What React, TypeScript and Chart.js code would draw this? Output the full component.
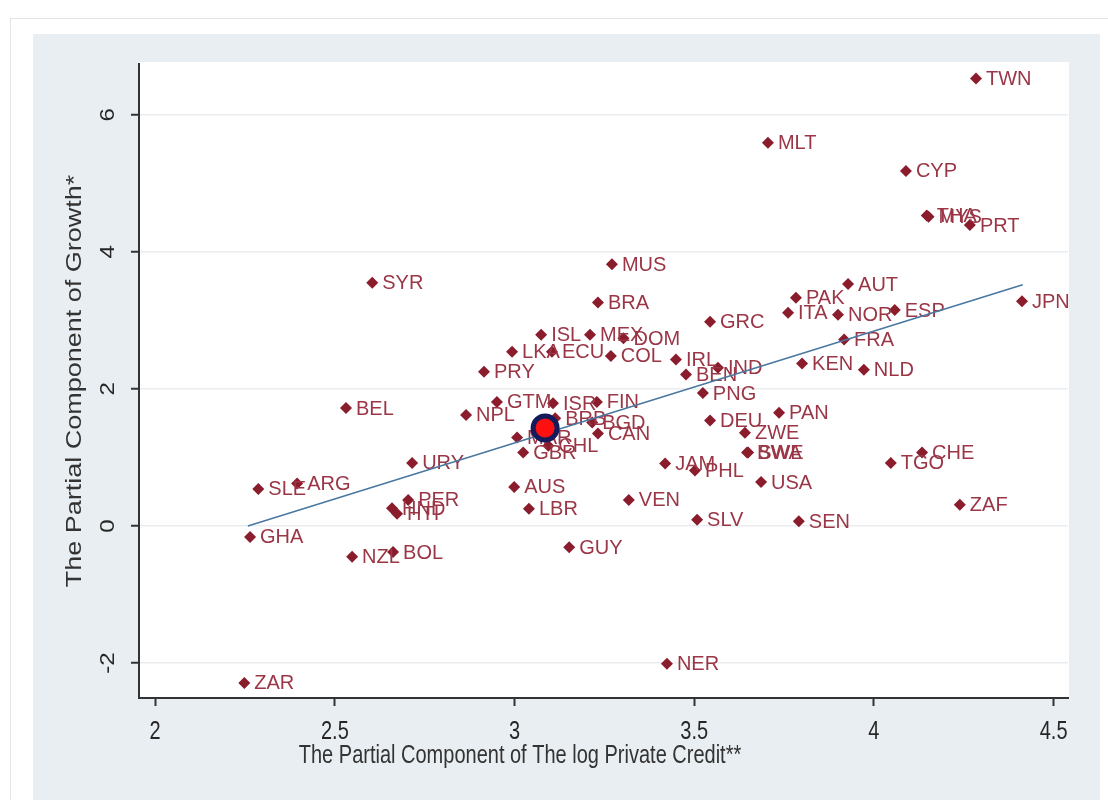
import React, { useEffect, useRef } from "react";
import { Chart, registerables } from "chart.js";

Chart.register(...registerables);

const countries = [
  "TWN", "MLT", "CYP", "THA", "MYS", "PRT", "MUS", "SYR", "AUT", "BRA",
  "PAK", "ITA", "NOR", "ESP", "JPN", "GRC", "ISL", "MEX", "DOM", "LKA",
  "ECU", "COL", "IRL", "PRY", "BEN", "IND", "KEN", "FRA", "NLD", "PNG",
  "GTM", "ISR", "FIN", "BRB", "BGD", "CAN", "NPL", "BEL", "MAR", "GBR",
  "CHL", "URY", "SLE", "ARG", "PER", "HND", "HTI", "GHA", "NZL", "BOL",
  "AUS", "LBR", "GUY", "VEN", "JAM", "PHL", "SLV", "DEU", "PAN", "ZWE",
  "BWA", "SWE", "USA", "SEN", "TGO", "CHE", "ZAF", "NER", "ZAR",
];
const creditValues = [
  4.284, 3.705, 4.089, 4.147, 4.152, 4.267, 3.271, 2.604, 3.928, 3.232,
  3.783, 3.761, 3.900, 4.058, 4.412, 3.544, 3.074, 3.210, 3.303, 2.993,
  3.104, 3.268, 3.449, 2.915, 3.477, 3.566, 3.800, 3.917, 3.972, 3.524,
  2.951, 3.107, 3.229, 3.113, 3.216, 3.232, 2.865, 2.531, 3.007, 3.024,
  3.094, 2.715, 2.287, 2.395, 2.704, 2.659, 2.673, 2.264, 2.548, 2.662,
  2.999, 3.040, 3.152, 3.318, 3.419, 3.502, 3.508, 3.544, 3.736, 3.641,
  3.647, 3.650, 3.686, 3.791, 4.047, 4.134, 4.239, 3.424, 2.248,
];
const growthValues = [
  6.53, 5.59, 5.18, 4.53, 4.51, 4.39, 3.82, 3.55, 3.53, 3.26,
  3.33, 3.11, 3.08, 3.15, 3.28, 2.98, 2.79, 2.79, 2.74, 2.54,
  2.54, 2.48, 2.43, 2.25, 2.21, 2.31, 2.37, 2.72, 2.28, 1.94,
  1.81, 1.79, 1.81, 1.57, 1.51, 1.35, 1.62, 1.72, 1.29, 1.07,
  1.17, 0.92, 0.54, 0.62, 0.38, 0.26, 0.18, -0.16, -0.45, -0.38,
  0.57, 0.25, -0.31, 0.38, 0.91, 0.81, 0.09, 1.54, 1.65, 1.36,
  1.07, 1.07, 0.64, 0.07, 0.92, 1.07, 0.31, -2.01, -2.29,
];
const highlightX = [3.085];
const highlightY = [1.43];
const fitX = [2.258, 4.414];
const fitY = [0.0, 3.52];
const xTicks = [2, 2.5, 3, 3.5, 4, 4.5];
const xTickLabels = ["2", "2.5", "3", "3.5", "4", "4.5"];
const yTicks = [-2, 0, 2, 4, 6];
const yTickLabels = ["-2", "0", "2", "4", "6"];
const xTitle = "The Partial Component of The log Private Credit**";
const yTitle = "The Partial Component of Growth*";

const SANS = "'Liberation Sans', Arial, sans-serif";

export default function App() {
  const ref = useRef<HTMLCanvasElement | null>(null);

  useEffect(() => {
    const canvas = ref.current;
    if (!canvas) return;

    const areaBg = {
      id: "areaBg",
      beforeDraw(chart: any) {
        const { ctx, chartArea } = chart;
        ctx.save();
        ctx.fillStyle = "#ffffff";
        ctx.fillRect(chartArea.left, chartArea.top - 2, chartArea.right - chartArea.left + 1, chartArea.bottom - chartArea.top + 2);
        ctx.restore();
      },
    };

    const pointLabels = {
      id: "pointLabels",
      afterDatasetDraw(chart: any, args: any) {
        if (args.index !== 0) return;
        const { ctx } = chart;
        const meta = chart.getDatasetMeta(0);
        ctx.save();
        ctx.font = `20px ${SANS}`;
        ctx.fillStyle = "#9a3646";
        ctx.textAlign = "left";
        ctx.textBaseline = "middle";
        meta.data.forEach((el: any, i: number) => {
          ctx.fillText(countries[i], el.x + 10, el.y + 1);
        });
        ctx.restore();
      },
    };

    const axisText = {
      id: "axisText",
      afterDraw(chart: any) {
        const { ctx, chartArea } = chart;
        const ys = chart.scales.y;
        const xs = chart.scales.x;
        ctx.save();
        ctx.fillStyle = "#262626";
        ctx.textAlign = "center";
        ctx.textBaseline = "middle";
        // y tick labels (rotated)
        ctx.font = `24px ${SANS}`;
        yTicks.forEach((v, i) => {
          const py = ys.getPixelForValue(v);
          ctx.save();
          ctx.translate(chartArea.left - 31, py);
          ctx.rotate(-Math.PI / 2);
          ctx.scale(1, 0.85);
          ctx.fillText(yTickLabels[i], 0, 0);
          ctx.restore();
        });
        // x tick labels (condensed)
        ctx.font = `25px ${SANS}`;
        xTicks.forEach((v, i) => {
          const px = xs.getPixelForValue(v);
          ctx.save();
          ctx.translate(px, chartArea.bottom + 34);
          ctx.scale(0.8, 1);
          ctx.fillText(xTickLabels[i], 0, 0);
          ctx.restore();
        });
        // y title
        ctx.fillStyle = "#333333";
        ctx.font = `27px ${SANS}`;
        ctx.save();
        ctx.translate(chartArea.left - 64, (chartArea.top + chartArea.bottom) / 2);
        ctx.rotate(-Math.PI / 2);
        ctx.scale(1, 0.85);
        ctx.fillText(yTitle, 0, 0);
        ctx.restore();
        // x title
        ctx.font = `25px ${SANS}`;
        ctx.save();
        ctx.translate(chartArea.left + 381, chartArea.bottom + 58);
        ctx.scale(0.8, 1);
        ctx.fillText(xTitle, 0, 0);
        ctx.restore();
        ctx.restore();
      },
    };

    const chart = new Chart(canvas, {
      type: "scatter",
      data: {
        datasets: [
          {
            label: "countries",
            data: countries.map((_, i) => ({ x: creditValues[i], y: growthValues[i] })),
            pointStyle: "rectRot",
            pointRadius: 6,
            backgroundColor: "#8a1c2c",
            borderColor: "#8a1c2c",
            borderWidth: 0,
            order: 2,
          },
          {
            type: "line",
            label: "fit",
            data: fitX.map((x, i) => ({ x, y: fitY[i] })),
            borderColor: "#4a78a0",
            borderWidth: 1.6,
            pointRadius: 0,
            fill: false,
            order: 1,
          },
          {
            label: "highlight",
            data: highlightX.map((x, i) => ({ x, y: highlightY[i] })),
            pointStyle: "circle",
            pointRadius: 12,
            backgroundColor: "#ff1010",
            borderColor: "#141a5a",
            borderWidth: 5,
            order: 0,
          },
        ],
      } as any,
      options: {
        animation: false,
        responsive: false,
        layout: { padding: { left: 0, top: 30, right: 32, bottom: 0 } },
        plugins: { legend: { display: false }, tooltip: { enabled: false } },
        scales: {
          x: {
            type: "linear",
            min: 1.955,
            max: 4.54,
            afterBuildTicks(scale: any) {
              scale.ticks = xTicks.map((v) => ({ value: v }));
            },
            afterFit(scale: any) {
              scale.height = 102;
            },
            ticks: { display: false },
            grid: {
              drawOnChartArea: false,
              drawTicks: true,
              tickLength: 8,
              tickColor: "#333333",
              tickWidth: 2,
            },
            border: { display: true, color: "#333333", width: 2 },
          },
          y: {
            type: "linear",
            min: -2.51,
            max: 6.74,
            afterBuildTicks(scale: any) {
              scale.ticks = yTicks.map((v) => ({ value: v }));
            },
            afterFit(scale: any) {
              scale.width = 106;
            },
            ticks: { display: false },
            grid: {
              drawOnChartArea: true,
              color: "#e9edef",
              lineWidth: 1.5,
              drawTicks: true,
              tickLength: 8,
              tickColor: "#333333",
              tickWidth: 2,
            },
            border: { display: true, color: "#333333", width: 2 },
          },
        },
      } as any,
      plugins: [areaBg, pointLabels, axisText],
    });

    return () => chart.destroy();
  }, []);

  return (
    <div style={{ position: "absolute", left: 0, top: 0, width: 1108, height: 800, background: "#ffffff", overflow: "hidden" }}>
      <div
        style={{
          position: "absolute",
          left: 10,
          top: 18,
          width: 1110,
          height: 800,
          border: "1px solid #e2e4e5",
          boxSizing: "border-box",
        }}
      />
      <div style={{ position: "absolute", left: 33, top: 34, width: 1067, height: 766, background: "#e8eef1" }}>
        <canvas ref={ref} width={1067} height={766} style={{ width: 1067, height: 766, display: "block" }} />
      </div>
    </div>
  );
}
